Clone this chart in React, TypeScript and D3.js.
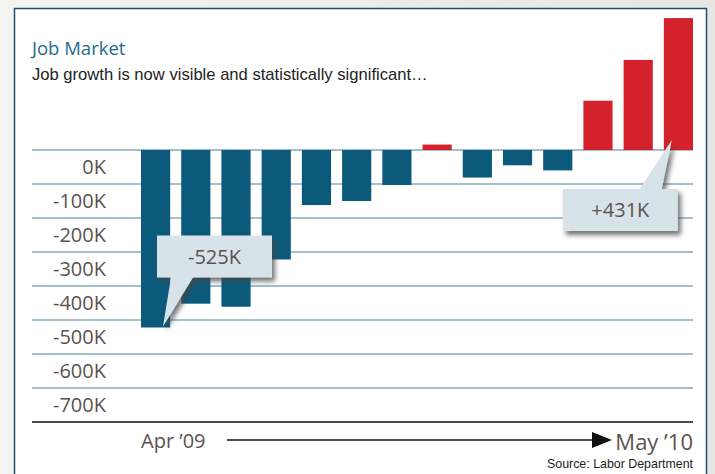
import { useEffect, useRef } from 'react';
import * as d3 from "d3";

// monthly change in payrolls, thousands
const months = ["Apr ’09", "May ’09", "Jun ’09", "Jul ’09", "Aug ’09", "Sep ’09", "Oct ’09",
    "Nov ’09", "Dec ’09", "Jan ’10", "Feb ’10", "Mar ’10", "Apr ’10", "May ’10"];
const jobChange = [-522, -452, -461, -322, -162, -150, -103, 16, -81, -45, -60, 145, 265, 388];
const yTicks = [0, -100, -200, -300, -400, -500, -600, -700];
const callouts = [
    { index: 0, text: "-525K" },
    { index: 13, text: "+431K" },
];

const W = 715;
const H = 474;
const LABEL_FONT = "'Open Sans', 'Noto Sans', sans-serif";
const TEXT_FONT = "'Liberation Sans', Arial, sans-serif";

const App: React.FC = () => {
    const ref = useRef<SVGSVGElement | null>(null);

    useEffect(() => {
        if (!ref.current) return;
        const svg = d3.select(ref.current).attr("width", W).attr("height", H);
        svg.selectAll("*").remove();

        const defs = svg.append("defs");
        const f = defs.append("filter").attr("id", "shadow")
            .attr("x", "-20%").attr("y", "-20%").attr("width", "150%").attr("height", "150%");
        f.append("feDropShadow").attr("dx", 3).attr("dy", 4).attr("stdDeviation", 2.5)
            .attr("flood-color", "#444").attr("flood-opacity", 0.75);
        const bg = defs.append("linearGradient").attr("id", "bg").attr("x1", 0).attr("x2", 1);
        bg.append("stop").attr("offset", "0").attr("stop-color", "#f3f3f1");
        bg.append("stop").attr("offset", "1").attr("stop-color", "#e6e6e3");

        // page + panel
        svg.append("rect").attr("width", W).attr("height", H).attr("fill", "url(#bg)");
        svg.append("rect")
            .attr("x", 14.5).attr("y", 8.5).attr("width", 692).attr("height", 480)
            .attr("fill", "white").attr("stroke", "#1d4f6e").attr("stroke-width", 1.5);

        const left = 32, right = 693;
        const x = d3.scaleBand<number>()
            .domain(d3.range(months.length))
            .range([141, right])
            .paddingInner(0.275)
            .paddingOuter(0);
        const y = d3.scaleLinear().domain([-800, 400]).range([422, 14]);

        // titles
        svg.append("text").attr("x", left).attr("y", 55)
            .attr("font-family", LABEL_FONT).attr("font-size", 18.5).attr("fill", "#1f6b8e")
            .text("Job Market");
        svg.append("text").attr("x", left).attr("y", 80)
            .attr("font-family", TEXT_FONT).attr("font-size", 16.6).attr("fill", "#222")
            .text("Job growth is now visible and statistically significant…");

        // gridlines
        svg.append("g").selectAll("line").data(yTicks).enter().append("line")
            .attr("x1", left).attr("x2", right)
            .attr("y1", d => y(d)).attr("y2", d => y(d))
            .attr("stroke", "#86a9bb").attr("stroke-width", 1.6);

        // y labels sit in the band under each gridline
        svg.append("g").selectAll("text").data(yTicks).enter().append("text")
            .attr("x", 106).attr("y", d => y(d - 50)).attr("dy", "0.36em")
            .attr("text-anchor", "end")
            .attr("font-family", LABEL_FONT).attr("font-size", 20).attr("fill", "#5b5250")
            .text(d => `${d}K`);

        // bars
        svg.append("g").selectAll("rect").data(jobChange).enter().append("rect")
            .attr("x", (_, i) => x(i) || 0)
            .attr("width", x.bandwidth())
            .attr("y", d => y(Math.max(0, d)))
            .attr("height", d => Math.abs(y(d) - y(0)))
            .attr("fill", d => d >= 0 ? "#d3222b" : "#0b5a7b");

        // bottom axis
        svg.append("line").attr("x1", left).attr("x2", right)
            .attr("y1", y(-800)).attr("y2", y(-800))
            .attr("stroke", "#111").attr("stroke-width", 1.6);

        svg.append("text").attr("x", x(0) || 0).attr("y", 448)
            .attr("font-family", LABEL_FONT).attr("font-size", 20).attr("fill", "#5b5250")
            .text(months[0]);
        svg.append("text").attr("x", right).attr("y", 450).attr("text-anchor", "end")
            .attr("font-family", LABEL_FONT).attr("font-size", 22).attr("fill", "#5b5250")
            .text(months[months.length - 1]);
        svg.append("line").attr("x1", 227).attr("x2", 596).attr("y1", 440).attr("y2", 440)
            .attr("stroke", "#111").attr("stroke-width", 1.6);
        svg.append("path").attr("d", "M592,432 L612,440 L592,448 Z").attr("fill", "#111");

        svg.append("text").attr("x", right).attr("y", 468).attr("text-anchor", "end")
            .attr("font-family", TEXT_FONT).attr("font-size", 12.4).attr("fill", "#222")
            .text("Source: Labor Department");

        // callouts
        callouts.forEach(c => {
            const v = jobChange[c.index];
            const bx = x(c.index) || 0;
            const g = svg.append("g").attr("filter", "url(#shadow)");
            let tipX: number, tipY: number, boxX: number, boxY: number, path: string;
            const bw = 115, bh = 42;
            if (v < 0) {
                tipX = bx + 22; tipY = y(v) - 1;
                boxX = tipX - 6; boxY = tipY - 91;
                path = `M${boxX},${boxY} h${bw} v${bh} H${tipX + 30} L${tipX},${tipY} L${tipX + 8},${boxY + bh} H${boxX} Z`;
            } else {
                tipX = bx + 8; tipY = y(0) - 10;
                boxX = tipX - 109; boxY = tipY + 49;
                path = `M${boxX},${boxY} H${tipX - 32} L${tipX},${tipY} L${tipX - 10},${boxY} H${boxX + bw} v${bh} H${boxX} Z`;
            }
            g.append("path").attr("d", path).attr("fill", "#d7e3e9");
            svg.append("text").attr("x", boxX + bw / 2).attr("y", boxY + bh / 2).attr("dy", "0.36em")
                .attr("text-anchor", "middle")
                .attr("font-family", LABEL_FONT).attr("font-size", 20).attr("fill", "#5b5250")
                .text(c.text);
        });
    }, []);

    return (
        <div style={{ position: "absolute", left: 0, top: 0 }}>
            <svg ref={ref} style={{ display: "block" }}></svg>
        </div>
    );
};

export default App;
